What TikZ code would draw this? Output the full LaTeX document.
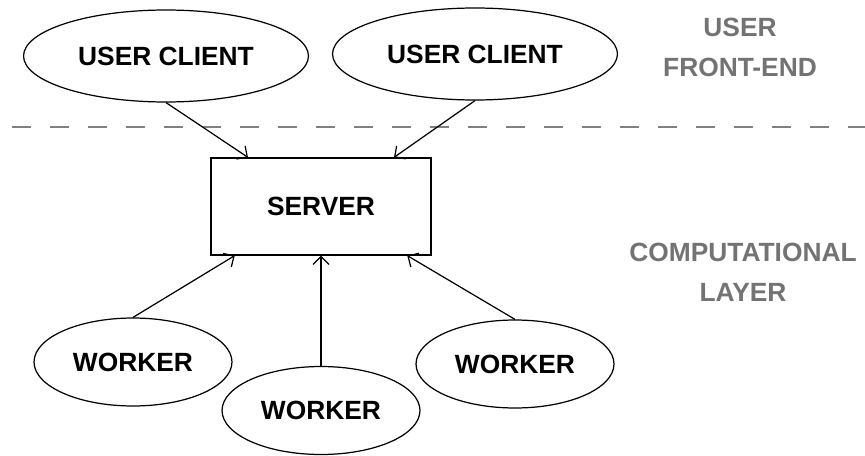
\documentclass[tikz,border=0pt]{standalone}
\usepackage{fontspec}
\setmainfont{Liberation Sans}
\usepackage{tikz}
\usetikzlibrary{shapes}
\usetikzlibrary{arrows}
\usetikzlibrary{arrows.meta}
\usetikzlibrary{calc}

\tikzset{
  client/.style={draw, ellipse, line width=0.7pt, inner sep=0pt, minimum width=5.7cm, minimum height=1.84cm, font=\fontsize{15}{18}\selectfont\bfseries},
  worker/.style={draw, ellipse, line width=0.7pt, inner sep=0pt, minimum width=3.96cm, minimum height=1.76cm, font=\fontsize{15}{18}\selectfont\bfseries},
  server/.style={draw, rectangle, line width=0.7pt, inner sep=0pt, minimum width=4.4cm, minimum height=1.94cm, font=\fontsize{15}{18}\selectfont\bfseries},
  layer/.style={text=black!55, align=center, font=\fontsize{15}{22.7}\selectfont\bfseries},
  link/.style={-{Straight Barb[length=4.5pt, width=9pt]}, line width=0.7pt}
}

\begin{document}
\begin{tikzpicture}[x=0.02cm, y=-0.02cm]
\useasboundingbox (0,0) rectangle (865,456);

% front-end / computational split
\coordinate (sepl) at (12,127);
\coordinate (sepr) at (865,127);
\draw[gray, line width=1.1pt, dash pattern=on 0.38cm off 0.38cm] (sepl) -- (sepr);
\node[layer] (front) at (740,47) {USER\\FRONT-END};
\node[layer] (comp) at (743,272) {COMPUTATIONAL\\LAYER};

\node[client] (client1) at (166,56) {USER CLIENT};
\node[client] (client2) at (475,54) {USER CLIENT};
\node[server] (server) at (321,206.5) {SERVER};
\node[worker] (worker1) at (133,362) {WORKER};
\node[worker] (worker2) at (321,410.5) {WORKER};
\node[worker] (worker3) at (515,364) {WORKER};

\draw[link] (client1.south) -- ($(server.north west)!0.17!(server.north east)$);
\draw[link] (client2.south) -- ($(server.north west)!0.83!(server.north east)$);
\draw[link] (worker1.north) -- ($(server.south west)!0.11!(server.south east)$);
\draw[link] (worker2.north) -- (server.south);
\draw[link] (worker3.north) -- ($(server.south west)!0.89!(server.south east)$);
\end{tikzpicture}
\end{document}
